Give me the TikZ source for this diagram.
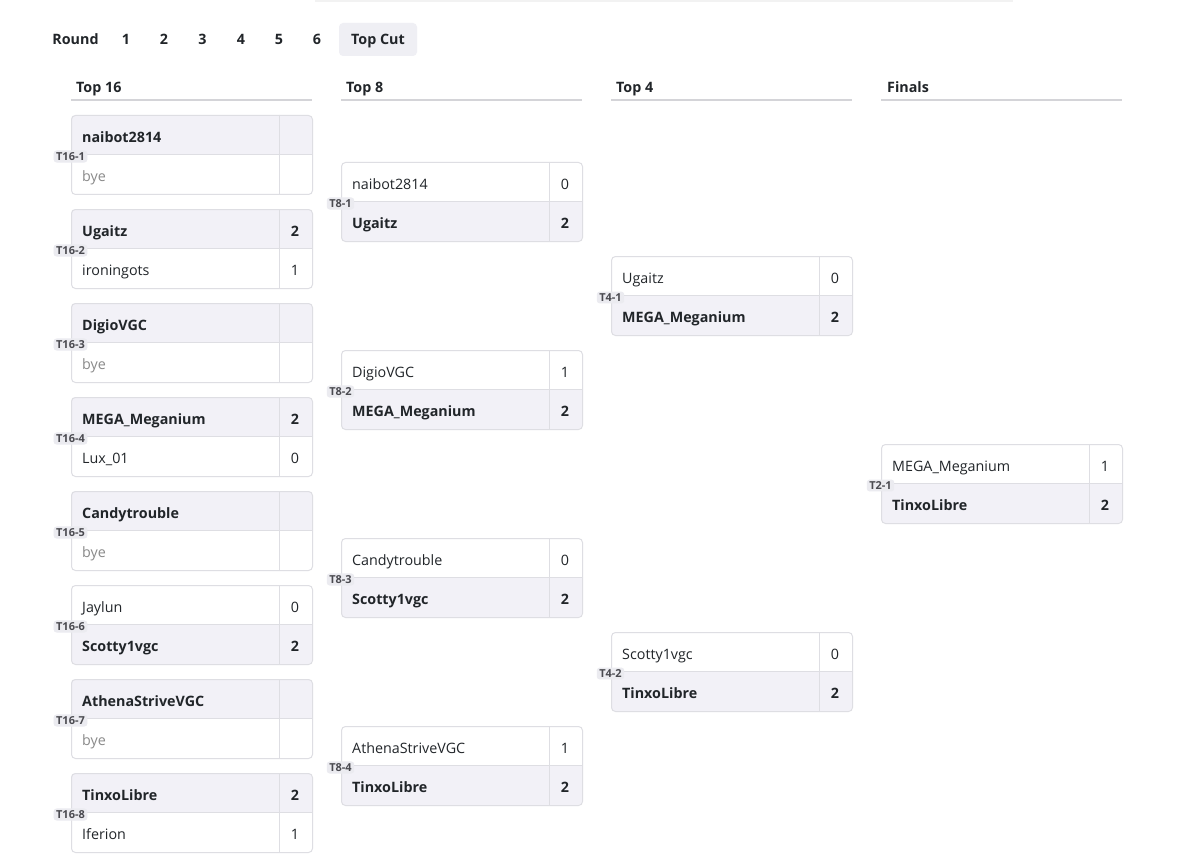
\documentclass[tikz,border=0pt]{standalone}
\usepackage{fontspec}
\setmainfont{Open Sans}
\definecolor{txt}{HTML}{212529}
\definecolor{byetxt}{HTML}{8A8A8A}
\definecolor{winfill}{HTML}{F2F1F7}
\definecolor{border}{HTML}{DEDEE3}
\definecolor{badgefill}{HTML}{EBEBF0}
\definecolor{badgetxt}{HTML}{4A4A50}
\definecolor{tabfill}{HTML}{EFEFF4}
\definecolor{hline}{HTML}{D4D4D8}
\tikzset{
  win/.style={font=\fontsize{14.3}{16}\selectfont\bfseries, text=txt, inner sep=0pt},
  lose/.style={font=\fontsize{14.3}{16}\selectfont, text=txt, inner sep=0pt},
  byes/.style={font=\fontsize{14.3}{16}\selectfont, text=byetxt, inner sep=0pt},
  boxframe/.style={draw=border, line width=1pt, rounded corners=4pt, inner sep=0pt},
  sep/.style={draw=border, line width=1pt},
  badge/.style={fill=badgefill, text=badgetxt, rounded corners=3pt, font=\fontsize{11}{12}\selectfont\bfseries, inner xsep=2.5pt, inner ysep=2pt},
  tab/.style={font=\fontsize{14.3}{16}\selectfont\bfseries, text=txt, inner sep=0pt, anchor=base},
  colhead/.style={font=\fontsize{14.3}{16}\selectfont\bfseries, text=txt, inner sep=0pt, anchor=base west},
  headline/.style={draw=hline, line width=1.4pt}
}
% #1 x, #2 y, #3 label, #4 top name, #5 top score, #6 bottom name, #7 bottom score, #8 mode, #9 id
\newcommand\bmatch[9]{%
  \ifnum#8=2
    \def\bmfo{39.5}\tikzset{bmtop/.style={lose},bmbot/.style={win}}%
  \else
    \def\bmfo{0}\tikzset{bmtop/.style={win}}%
    \ifnum#8=3 \tikzset{bmbot/.style={byes}}\else\tikzset{bmbot/.style={lose}}\fi
  \fi
  \begin{scope}
    \clip[rounded corners=4pt] (#1,#2) rectangle ++(241,79);
    \fill[winfill] ({#1},{#2+\bmfo}) rectangle ++(241,39.5);
  \end{scope}
  \node[boxframe, anchor=north west, minimum width=241pt, minimum height=79pt] (#9) at (#1,#2) {};
  \draw[sep] ({#1},{#2+39.5}) -- ++(241,0);
  \draw[sep] ({#1+208},{#2}) -- ++(0,79);
  \node[bmtop, anchor=base west] (#9-a) at ({#1+11},{#2+27.2}) {#4};
  \node[bmtop, anchor=base] (#9-as) at ({#1+224},{#2+27.2}) {#5};
  \node[bmbot, anchor=base west] (#9-b) at ({#1+11},{#2+66.7}) {#6};
  \node[bmbot, anchor=base] (#9-bs) at ({#1+224},{#2+66.7}) {#7};
  \node[badge] (#9-l) at ({#1-0.5},{#2+41.5}) {#3};
}
\begin{document}
\begin{tikzpicture}[x=1pt,y=-1pt]
\useasboundingbox (0,0) rectangle (1200,864);
\fill[white] (0,0) rectangle (1200,864);
% faint top bar
\fill[black!5] (315,-1) rectangle (1013,2.5);
% round tabs
\node[tab] (round) at (75.5,45) {Round};
\node[tab] (r1) at (126,45) {1};
\node[tab] (r2) at (164,45) {2};
\node[tab] (r3) at (202.5,45) {3};
\node[tab] (r4) at (241,45) {4};
\node[tab] (r5) at (279,45) {5};
\node[tab] (r6) at (317,45) {6};
\fill[tabfill, rounded corners=4pt] (339,23) rectangle (417,56);
\node[tab] (topcut) at (378,45) {Top Cut};
% column headers
\node[colhead] (h16) at (76,92.5) {Top 16};
\draw[headline] (71,100) -- (312,100);
\node[colhead] (h8) at (346,92.5) {Top 8};
\draw[headline] (341,100) -- (582,100);
\node[colhead] (h4) at (616,92.5) {Top 4};
\draw[headline] (611,100) -- (852,100);
\node[colhead] (h2) at (887,92.5) {Finals};
\draw[headline] (881,100) -- (1122,100);
% Top 16
\bmatch{71}{115}{T16-1}{naibot2814}{}{bye}{}{3}{t161}
\bmatch{71}{209}{T16-2}{Ugaitz}{2}{ironingots}{1}{1}{t162}
\bmatch{71}{303}{T16-3}{DigioVGC}{}{bye}{}{3}{t163}
\bmatch{71}{397}{T16-4}{MEGA\_Meganium}{2}{Lux\_01}{0}{1}{t164}
\bmatch{71}{491}{T16-5}{Candytrouble}{}{bye}{}{3}{t165}
\bmatch{71}{585}{T16-6}{Jaylun}{0}{Scotty1vgc}{2}{2}{t166}
\bmatch{71}{679}{T16-7}{AthenaStriveVGC}{}{bye}{}{3}{t167}
\bmatch{71}{773}{T16-8}{TinxoLibre}{2}{Iferion}{1}{1}{t168}
% Top 8
\bmatch{341}{162}{T8-1}{naibot2814}{0}{Ugaitz}{2}{2}{t81}
\bmatch{341}{350}{T8-2}{DigioVGC}{1}{MEGA\_Meganium}{2}{2}{t82}
\bmatch{341}{538}{T8-3}{Candytrouble}{0}{Scotty1vgc}{2}{2}{t83}
\bmatch{341}{726}{T8-4}{AthenaStriveVGC}{1}{TinxoLibre}{2}{2}{t84}
% Top 4
\bmatch{611}{256}{T4-1}{Ugaitz}{0}{MEGA\_Meganium}{2}{2}{t41}
\bmatch{611}{632}{T4-2}{Scotty1vgc}{0}{TinxoLibre}{2}{2}{t42}
% Finals
\bmatch{881}{444}{T2-1}{MEGA\_Meganium}{1}{TinxoLibre}{2}{2}{t21}
\end{tikzpicture}
\end{document}
